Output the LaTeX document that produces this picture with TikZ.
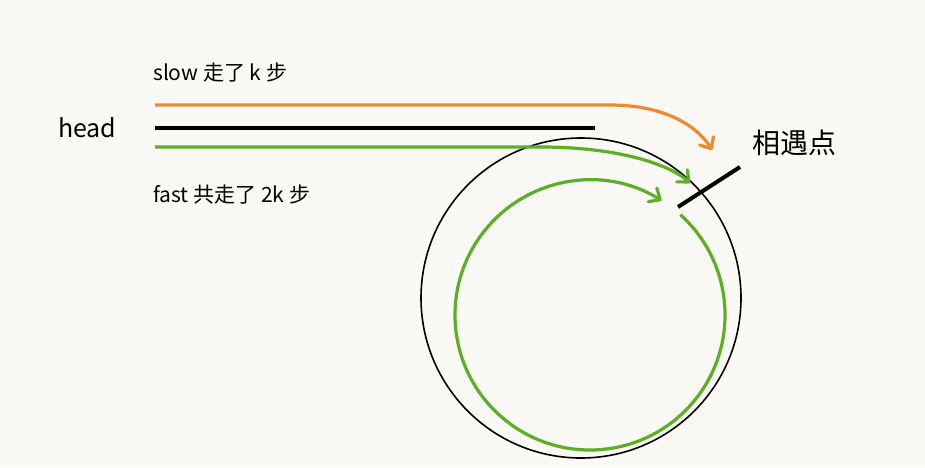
\documentclass[tikz,border=0pt]{standalone}
\usepackage{fontspec}
\setmainfont{Noto Sans CJK SC}
\usetikzlibrary{arrows.meta,calc}
\definecolor{bg}{HTML}{FAF9F5}
\definecolor{og}{HTML}{F08A30}
\definecolor{gr}{HTML}{5DB025}
\begin{document}
\begin{tikzpicture}[x=1pt,y=1pt,
  lbl/.style={anchor=west,inner sep=0pt,font=\fontsize{21}{24}\selectfont},
  arr/.style={line width=3.2pt,-{Straight Barb[length=9pt,width=16pt,round]}}]
\fill[bg] (0,0) rectangle (925,467);
\useasboundingbox (0,0) rectangle (925,467);
\node[lbl] (slow) at (153,394) {slow 走了 k 步};
\node[lbl,font=\fontsize{25}{28}\selectfont] (head) at (58,339) {head};
\node[lbl] (fast) at (153,272) {fast 共走了 2k 步};
\node[lbl,font=\fontsize{28}{32}\selectfont] (meet) at (752,324) {相遇点};
\coordinate (cc) at (581,169);
\coordinate (gc) at (590,152);
\draw[line width=1.6pt] (cc) circle (160);
\draw[line width=3.4pt] (155,339) -- (595,339);
\draw[og,arr] (155,362) -- (610,362) .. controls (670,362) and (700,337) .. (712,317);
\draw[gr,arr] (155,320) -- (540,320) .. controls (620,320) and (670,302) .. (690,284);
\draw[gr,arr] ($(gc)+(48:135)$) arc[start angle=48,end angle=-302,radius=135];
\draw[line width=4pt] (678,260) -- (740,300);
\end{tikzpicture}
\end{document}
